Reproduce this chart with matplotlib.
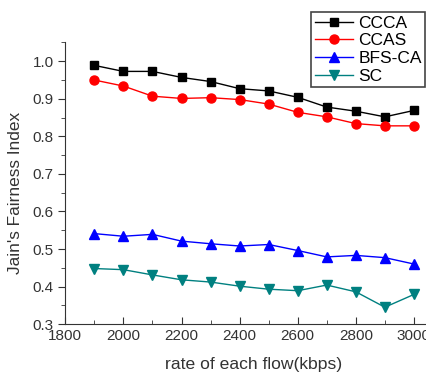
import matplotlib.pyplot as plt
from matplotlib.ticker import MultipleLocator

plt.rcParams['font.family'] = ['Liberation Sans', 'DejaVu Sans']

rates = [1900, 2000, 2100, 2200, 2300, 2400, 2500, 2600, 2700, 2800, 2900, 3000]
ccca = [0.989, 0.973, 0.973, 0.957, 0.946, 0.927, 0.921, 0.904, 0.878, 0.867, 0.852, 0.869]
ccas = [0.950, 0.934, 0.907, 0.901, 0.903, 0.898, 0.886, 0.864, 0.852, 0.834, 0.828, 0.828]
bfsca = [0.541, 0.534, 0.539, 0.521, 0.514, 0.508, 0.512, 0.496, 0.479, 0.483, 0.477, 0.460]
sc = [0.448, 0.445, 0.431, 0.418, 0.412, 0.401, 0.393, 0.389, 0.404, 0.386, 0.345, 0.379]

fig = plt.figure(figsize=(4.27, 3.76), dpi=100)
ax = fig.add_axes([0.153, 0.138, 0.847, 0.749])

# series
ax.plot(rates, ccca, color="black", marker="s", markersize=6, lw=1, label="CCCA")
ax.plot(rates, ccas, color="red", marker="o", markersize=6.5, lw=1, label="CCAS")
ax.plot(rates, bfsca, color="blue", marker="^", markersize=7.5, lw=1, label="BFS-CA")
ax.plot(rates, sc, color="#008080", marker="v", markersize=7.5, lw=1, label="SC")

ax.set_xlim(1800, 3045)
ax.set_ylim(0.3, 1.05)
ax.xaxis.set_major_locator(MultipleLocator(200))
ax.xaxis.set_minor_locator(MultipleLocator(100))
ax.yaxis.set_major_locator(MultipleLocator(0.1))
ax.yaxis.set_minor_locator(MultipleLocator(0.05))
ax.yaxis.set_major_formatter(plt.FormatStrFormatter('%.1f'))

ax.spines['top'].set_visible(False)
ax.spines['right'].set_visible(False)
for s in ('left', 'bottom'):
    ax.spines[s].set_color('#333333')
ax.tick_params(axis='y', which='major', direction='out', length=5, labelsize=11, colors='#333333')
ax.tick_params(axis='y', which='minor', direction='out', length=3, colors='#333333')
ax.tick_params(axis='x', which='major', direction='in', length=5, labelsize=11, colors='#333333')
ax.tick_params(axis='x', which='minor', direction='in', length=3, colors='#333333')

ax.set_xlabel("rate of each flow(kbps)", fontsize=12.6, color='#333333')
ax.set_ylabel("Jain's Fairness Index", fontsize=12.4, color='#333333')
ax.xaxis.set_label_coords(0.522, -0.117)
ax.yaxis.set_label_coords(-0.118, 0.465)

leg = fig.legend(loc='upper right', bbox_to_anchor=(0.996, 0.968), fontsize=12.5,
                 fancybox=False, edgecolor='#444444', framealpha=1,
                 handlelength=2.2, handletextpad=0.3, borderpad=0.2, labelspacing=0.15,
                 borderaxespad=0)
leg.get_frame().set_linewidth(1.2)

plt.savefig("out.png", dpi=100)
